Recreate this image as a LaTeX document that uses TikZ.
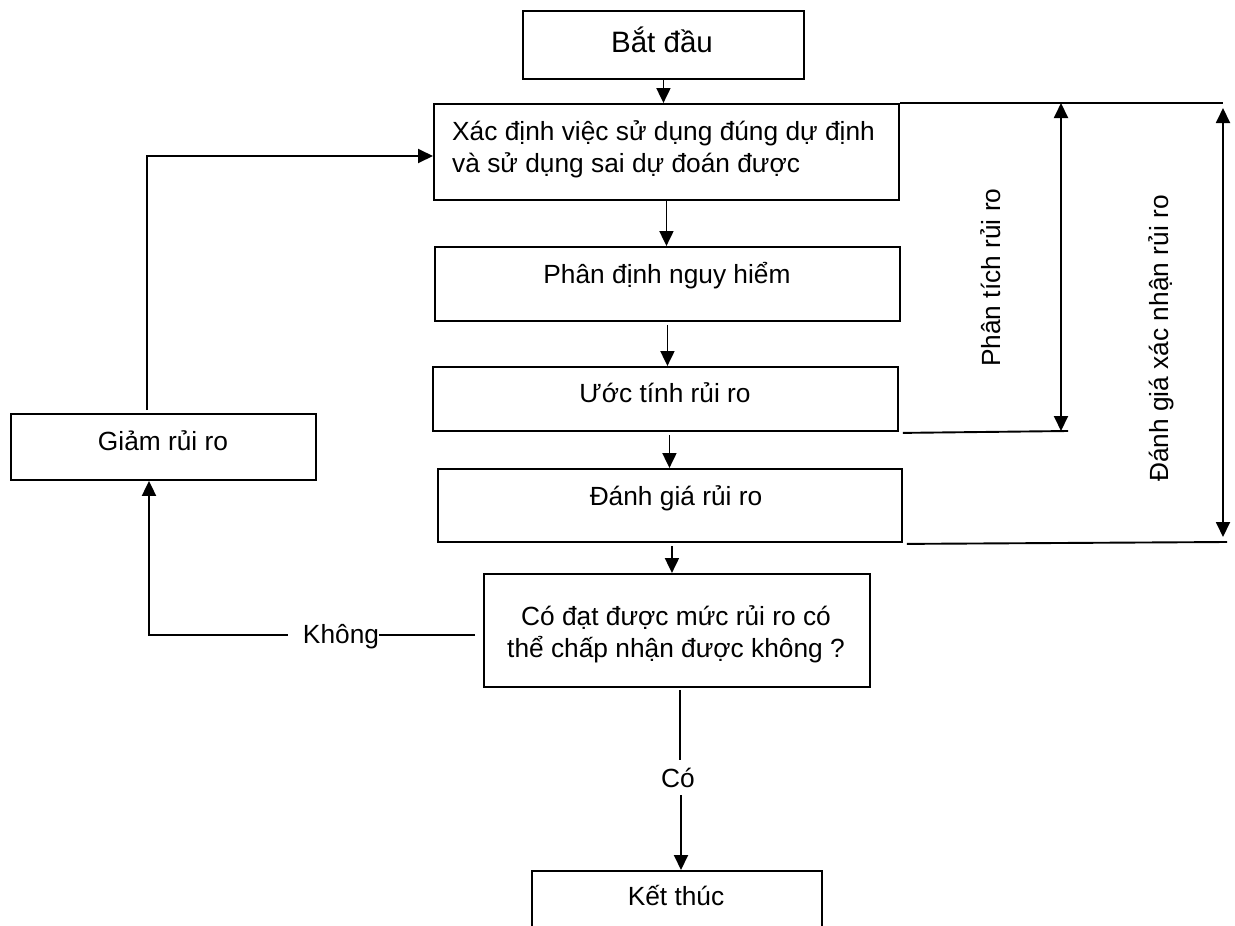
\documentclass[tikz,border=0pt]{standalone}
\usepackage{fontspec}
\setmainfont{Liberation Sans}
\usetikzlibrary{arrows.meta}
\begin{document}
\begin{tikzpicture}[x=1pt,y=-1pt,
  box/.style={draw, line width=1.9pt, inner sep=0pt, anchor=north west},
  lbl/.style={inner sep=0pt, font=\fontsize{26.3}{31}\selectfont},
  conn/.style={line width=1.9pt},
  arr/.style={conn, -{Triangle[length=15pt,width=14pt]}},
  darr/.style={conn, {Triangle[length=15pt,width=14pt]}-{Triangle[length=15pt,width=14pt]}}]
\useasboundingbox (0,0) rectangle (1235,926);
\clip (0,0) rectangle (1235,926);
% boxes
\node[box, minimum width=281pt, minimum height=68pt] (start) at (522,10) {};
\node[box, minimum width=465pt, minimum height=96pt] (b2) at (433,103) {};
\node[box, minimum width=465pt, minimum height=74pt] (b3) at (434,246) {};
\node[box, minimum width=465pt, minimum height=64pt] (b4) at (432,366) {};
\node[box, minimum width=464pt, minimum height=73pt] (b5) at (437,468) {};
\node[box, minimum width=305pt, minimum height=66pt] (giam) at (10,413) {};
\node[box, minimum width=386pt, minimum height=113pt] (dec) at (483,573) {};
\node[box, minimum width=290pt, minimum height=100pt] (end) at (531,870) {};
% texts
\node[lbl, anchor=base, font=\fontsize{29.5}{34}\selectfont] (tstart) at (662,52) {Bắt đầu};
\node[lbl, anchor=base west] (t2a) at (452,140) {Xác định việc sử dụng đúng dự định};
\node[lbl, anchor=base west] (t2b) at (452,172) {và sử dụng sai dự đoán được};
\node[lbl, anchor=base] (t3) at (667,283) {Phân định nguy hiểm};
\node[lbl, anchor=base] (t4) at (665,402) {Ước tính rủi ro};
\node[lbl, anchor=base] (t5) at (676,505) {Đánh giá rủi ro};
\node[lbl, anchor=base] (tgiam) at (163,450) {Giảm rủi ro};
\node[lbl, anchor=base] (tdeca) at (676,625) {Có đạt được mức rủi ro có};
\node[lbl, anchor=base] (tdecb) at (676,657) {thể chấp nhận được không ?};
\node[lbl, anchor=base] (tend) at (676,905) {Kết thúc};
\node[lbl, anchor=base, outer sep=8pt] (co) at (678,787) {Có};
\node[lbl, anchor=base] (khong) at (341,643) {Không};
\node[lbl, rotate=90, anchor=base west] (tpt) at (1000,367) {Phân tích rủi ro};
\node[lbl, rotate=90, anchor=base west] (tdg) at (1168,482) {Đánh giá xác nhận rủi ro};
% main flow
\draw[arr] (start.south) -- (start.south |- b2.north);
\draw[arr] (b2.south) -- (b2.south |- b3.north);
\draw[arr] ([yshift=-3pt]b3.south) -- (b3.south |- b4.north);
\draw[arr] ([xshift=4pt,yshift=-3pt]b4.south) -- ([xshift=4pt]b4.south |- b5.north);
\draw[arr] ([xshift=2pt,yshift=-3pt]b5.south) -- ([xshift=2pt]b5.south |- dec.north);
\draw[conn] ([xshift=3pt,yshift=-2pt]dec.south) -- ([xshift=3pt]dec.south |- co.north);
\draw[arr] ([xshift=3pt]co.south) -- ([xshift=3pt]co.south |- end.north);
% no branch
\coordinate (kr) at (475,635);
\coordinate (kl) at (149,635);
\draw[conn] (kr) -- (khong.east |- kr);
\draw[arr] ([xshift=-15pt]khong.west |- kl) -- (kl) -- (kl |- giam.south);
% loop back
\coordinate (lt) at (147,156);
\draw[arr] ([yshift=3pt]lt |- giam.north) -- (lt) -- (lt -| b2.west);
% dimension lines
\coordinate (rt) at (1223,103);
\coordinate (pa1) at (1061,103);
\coordinate (pa2) at (1061,431);
\coordinate (pb) at (1068,431);
\coordinate (da1) at (1223,108);
\coordinate (da2) at (1223,537);
\coordinate (db) at (1227,542);
\draw[conn] (b2.north east) -- (rt);
\draw[darr] (pa1) -- (pa2);
\draw[conn] ([xshift=4pt,yshift=-1pt]b4.south east) -- (pb);
\draw[darr] (da1) -- (da2);
\draw[conn] ([xshift=4pt,yshift=-1pt]b5.south east) -- (db);
\end{tikzpicture}
\end{document}
